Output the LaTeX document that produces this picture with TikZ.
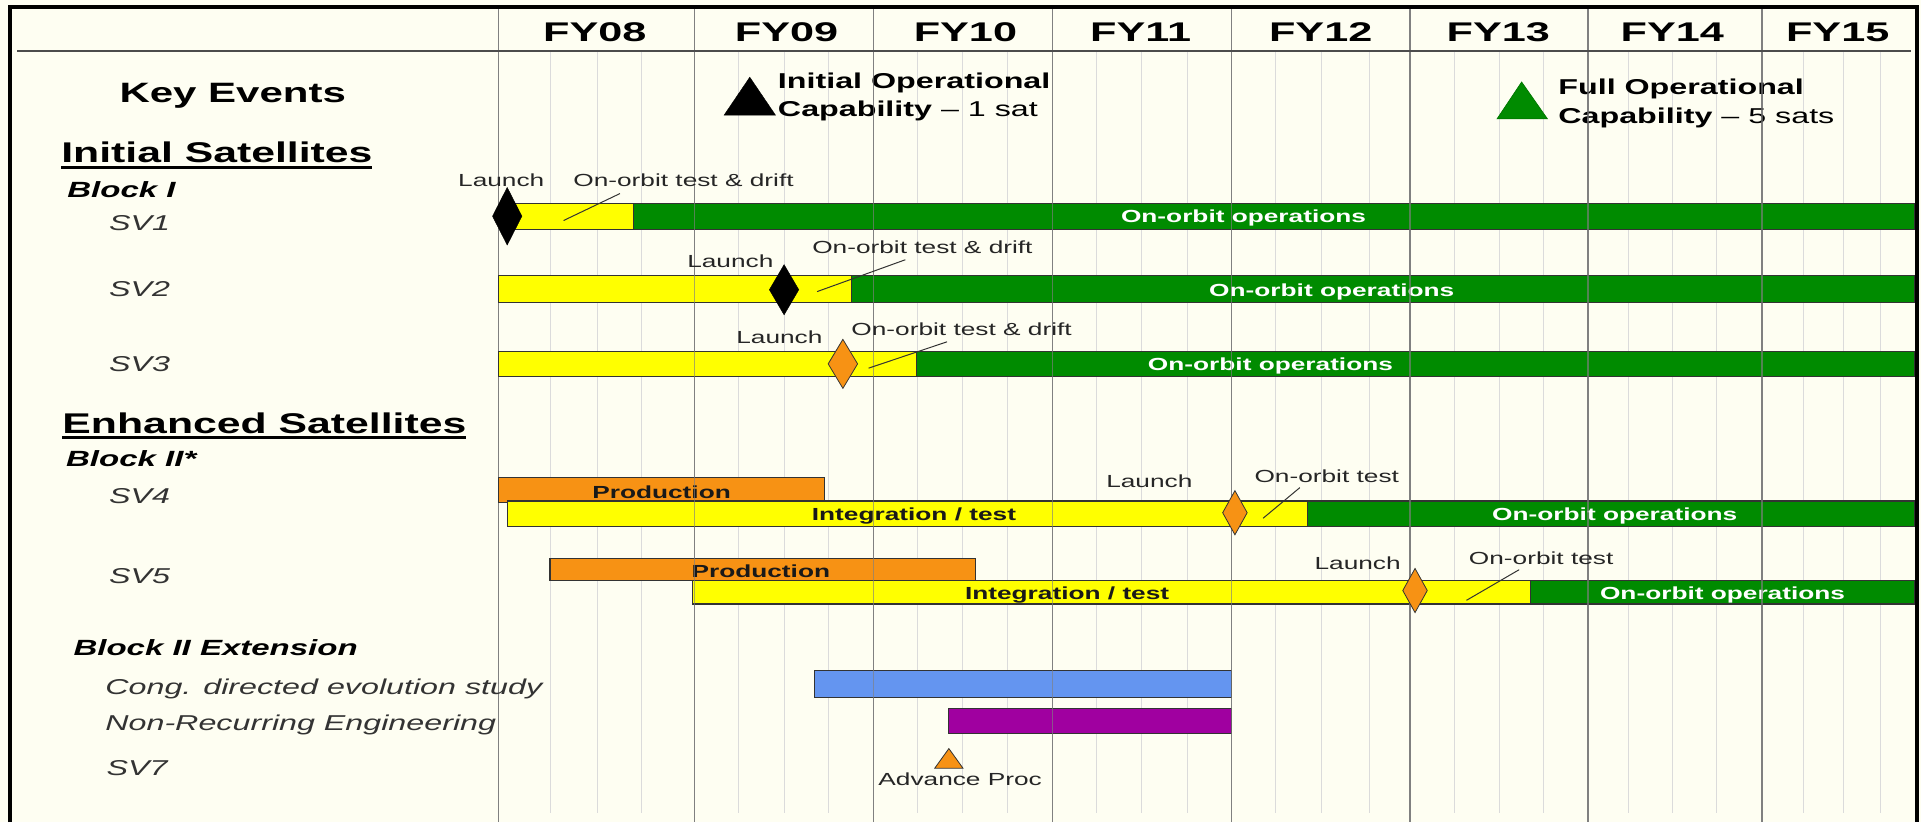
\documentclass[tikz,border=0pt]{standalone}
\usepackage{fontspec}
\setmainfont{Liberation Sans}
\usepackage{graphicx}
\newcommand{\hs}[1]{\scalebox{1.5}[1]{#1}}
\newcommand{\hsf}[1]{\scalebox{1.6}[1]{#1}}
\definecolor{bgc}{RGB}{254,254,242}
\definecolor{ylw}{RGB}{255,255,0}
\definecolor{grn}{RGB}{0,139,0}
\definecolor{org}{RGB}{247,146,20}
\definecolor{blu}{RGB}{100,149,240}
\definecolor{pur}{RGB}{160,0,160}
\definecolor{dgrn}{RGB}{0,120,0}
\tikzset{
  txt/.style={inner sep=0pt, outer sep=0pt},
  fyl/.style={txt, anchor=base, font=\fontsize{27}{30}\selectfont\bfseries},
  hdr/.style={txt, anchor=base west, font=\fontsize{28.5}{32}\selectfont\bfseries},
  keyl/.style={txt, anchor=base, font=\fontsize{28}{32}\selectfont\bfseries},
  blk/.style={txt, anchor=base west, font=\fontsize{22}{25}\selectfont\bfseries\itshape},
  svl/.style={txt, anchor=base west, text=black!80, font=\fontsize{21.5}{24}\selectfont\itshape},
  note/.style={txt, anchor=base west, text=black!85, font=\fontsize{17.5}{20}\selectfont},
  ops/.style={txt, anchor=base, text=white, font=\fontsize{17.5}{20}\selectfont\bfseries},
  inbar/.style={txt, anchor=base, text=black!90, font=\fontsize{17.5}{20}\selectfont\bfseries},
  capl/.style={txt, anchor=base west, font=\fontsize{21.5}{24}\selectfont},
  bar/.style={draw=black!80, line width=1.2pt},
  majorl/.style={draw=black!50, line width=1.5pt},
  minorl/.style={draw=black!14, line width=1pt},
  leader/.style={draw=black!80, line width=1pt},
  lmark/.style={draw=black!80, line width=0.8pt},
}
\begin{document}
\begin{tikzpicture}[x=1.2251pt,y=-1.2251pt]
\useasboundingbox (0,0) rectangle (1568,671);
\fill[bgc] (0,0) rectangle (1568,671);
% grid
\foreach \x in {449,488,524,603,640,676,749,786,822,895,932,969,1041,1079,1118,1187,1224,1260,1329,1365,1401,1472,1505,1535}
  \draw[minorl] (\x,42) -- (\x,664);
\foreach \x in {407,567,713,859,1005,1151,1296,1438}
  \draw[majorl] (\x,6) -- (\x,671);
% year labels
\node[fyl] (fy08) at (485.5,34) {\hsf{FY08}};
\node[fyl] (fy09) at (642,34) {\hsf{FY09}};
\node[fyl] (fy10) at (788,34) {\hsf{FY10}};
\node[fyl] (fy11) at (931,34) {\hsf{FY11}};
\node[fyl] (fy12) at (1078,34) {\hsf{FY12}};
\node[fyl] (fy13) at (1223,34) {\hsf{FY13}};
\node[fyl] (fy14) at (1365,34) {\hsf{FY14}};
\node[fyl] (fy15) at (1500,34) {\hsf{FY15}};
% key events
\filldraw[black] (591,94) -- (633,94) -- (612,63) -- cycle;
\node[capl, font=\fontsize{21.5}{24}\selectfont\bfseries] (ioc1) at (635,72) {\hs{Initial Operational}};
\node[capl] (ioc2) at (635,95) {\hs{\textbf{Capability} -- 1 sat}};
\filldraw[fill=grn, draw=dgrn, line width=0.8pt] (1222,97) -- (1263,97) -- (1242,67) -- cycle;
\node[capl, font=\fontsize{21.5}{24}\selectfont\bfseries] (foc1) at (1272,77) {\hs{Full Operational}};
\node[capl] (foc2) at (1272,101) {\hs{\textbf{Capability} -- 5 sats}};
% SV1
\filldraw[bar, fill=ylw] (414,166) rectangle (517,187);
\filldraw[bar, fill=grn] (517,166) rectangle (1563,187);
% SV2
\filldraw[bar, fill=ylw] (407,225) rectangle (695,247);
\filldraw[bar, fill=grn] (695,225) rectangle (1563,247);
% SV3
\filldraw[bar, fill=ylw] (407,287) rectangle (748,307);
\filldraw[bar, fill=grn] (748,287) rectangle (1563,307);
% SV4
\filldraw[bar, fill=org] (407,390) rectangle (673,410);
\filldraw[bar, fill=ylw] (414,409) rectangle (1067,430);
\filldraw[bar, fill=grn] (1067,409) rectangle (1563,430);
% SV5
\filldraw[bar, fill=org] (449,456) rectangle (796,473.5);
\filldraw[bar, fill=ylw] (565,473.5) rectangle (1249,493);
\filldraw[bar, fill=grn] (1249,473.5) rectangle (1563,493);
% extension
\filldraw[bar, fill=blu] (665,547.5) rectangle (1005,569);
\filldraw[bar, fill=pur] (774,578) rectangle (1005,599);
% bar labels
\node[ops] (op1) at (1015,182) {\hs{On-orbit operations}};
\node[ops] (op2) at (1087,242) {\hs{On-orbit operations}};
\node[ops] (op3) at (1037,302.5) {\hs{On-orbit operations}};
\node[inbar] (pr4) at (540,406.5) {\hs{Production}};
\node[inbar] (it4) at (746,424.5) {\hs{Integration / test}};
\node[ops] (op4) at (1318,425) {\hs{On-orbit operations}};
\node[inbar] (pr5) at (621,471) {\hs{Production}};
\node[inbar] (it5) at (871,489) {\hs{Integration / test}};
\node[ops] (op5) at (1406,489) {\hs{On-orbit operations}};
% major lines over bars
\foreach \x in {567,713,859,1005,1151,1296,1438}
  \draw[majorl, opacity=0.65] (\x,42) -- (\x,671);
% launch markers
\filldraw[black] (414,153) -- (426,176.5) -- (414,200) -- (402,176.5) -- cycle;
\filldraw[black] (640,216) -- (652,236.5) -- (640,257) -- (628,236.5) -- cycle;
\filldraw[lmark, fill=org] (688,277) -- (700,297) -- (688,317) -- (676,297) -- cycle;
\filldraw[lmark, fill=org] (1008,400.5) -- (1018,418.5) -- (1008,436.5) -- (998,418.5) -- cycle;
\filldraw[lmark, fill=org] (1155,464) -- (1165,482) -- (1155,500) -- (1145,482) -- cycle;
\filldraw[lmark, fill=org] (763,627) -- (786,627) -- (774.5,611) -- cycle;
% annotations
\node[note] (la1) at (374,152.4) {\hs{Launch}};
\node[note] (ot1) at (468,152.4) {\hs{On-orbit test \& drift}};
\coordinate (l1a) at (460,180); \coordinate (l1b) at (506,158);
\draw[leader] (l1a) -- (l1b);
\node[note] (la2) at (561,218) {\hs{Launch}};
\node[note] (ot2) at (663,207) {\hs{On-orbit test \& drift}};
\coordinate (l2a) at (667,238); \coordinate (l2b) at (739,212);
\draw[leader] (l2a) -- (l2b);
\node[note] (la3) at (601,280) {\hs{Launch}};
\node[note] (ot3) at (695,273.5) {\hs{On-orbit test \& drift}};
\coordinate (l3a) at (709,300.5); \coordinate (l3b) at (773,279);
\draw[leader] (l3a) -- (l3b);
\node[note] (la4) at (903,398) {\hs{Launch}};
\node[note] (ot4) at (1024,394) {\hs{On-orbit test}};
\coordinate (l4a) at (1031,423); \coordinate (l4b) at (1061,398);
\draw[leader] (l4a) -- (l4b);
\node[note] (la5) at (1073,465) {\hs{Launch}};
\node[note] (ot5) at (1199,461) {\hs{On-orbit test}};
\coordinate (l5a) at (1197,490); \coordinate (l5b) at (1240,465);
\draw[leader] (l5a) -- (l5b);
\node[note] (adv) at (717,641) {\hs{Advance Proc}};
% left column
\node[keyl] (key) at (190,84) {\hs{Key Events}};
\node[hdr] (is) at (50,133) {\hs{Initial Satellites}};
\draw[line width=3pt] ([yshift=-4.8pt]is.base west) -- ([yshift=-4.8pt]is.base east);
\node[blk] (b1) at (55,161) {\hs{Block I}};
\node[svl] (s1) at (89,188) {\hs{SV1}};
\node[svl] (s2) at (89,242) {\hs{SV2}};
\node[svl] (s3) at (89,303) {\hs{SV3}};
\node[hdr] (es) at (51,354) {\hs{Enhanced Satellites}};
\draw[line width=3pt] ([yshift=-4.2pt]es.base west) -- ([yshift=-4.2pt]es.base east);
\node[blk] (b2) at (54,381) {\hs{Block II*}};
\node[svl] (s4) at (89,411) {\hs{SV4}};
\node[svl] (s5) at (89,476) {\hs{SV5}};
\node[blk] (b3) at (60,535) {\hs{Block II Extension}};
\node[svl] (cg) at (86,567) {\hs{Cong. directed evolution study}};
\node[svl] (nr) at (86,596) {\hs{Non-Recurring Engineering}};
\node[svl] (s7) at (87,633) {\hs{SV7}};
% frame
\draw[line width=2pt, black!70] (14,42) -- (1560,42);
\draw[line width=4pt] (8,671) -- (8,5.5) -- (1564.5,5.5) -- (1564.5,671);
\end{tikzpicture}
\end{document}
